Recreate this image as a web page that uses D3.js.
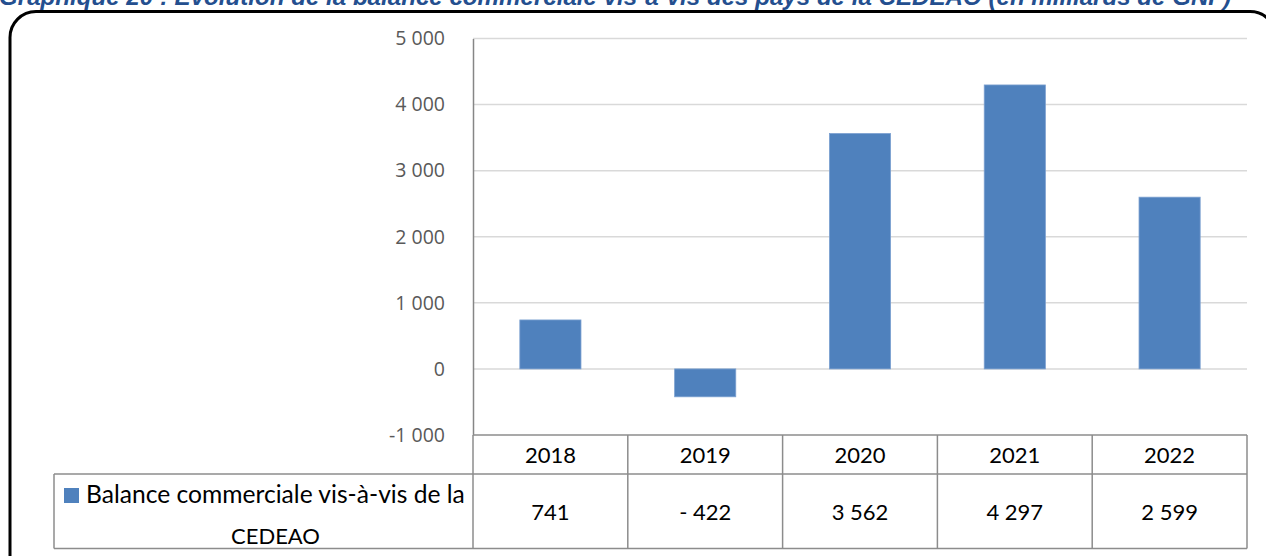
<!DOCTYPE html>
<html lang="fr">
<head>
<meta charset="UTF-8">
<title>Balance commerciale CEDEAO</title>
<style>
  body { margin: 0; background: #fff; }
  svg { display: block; }
</style>
</head>
<body>
<svg id="chart" width="1266" height="556"></svg>
<script src="https://d3js.org/d3.v7.min.js"></script>
<script>
// data
const years = ["2018", "2019", "2020", "2021", "2022"];
const balance = [741, -422, 3562, 4297, 2599];
const seriesName = "Balance commerciale vis-à-vis de la CEDEAO";
const yTicks = [-1000, 0, 1000, 2000, 3000, 4000, 5000];
const title = "Graphique 20 : Evolution de la balance commerciale vis-à-vis des pays de la CEDEAO (en milliards de GNF)";

const svg = d3.select("#chart");
const fr = d3.formatLocale({ decimal: ",", thousands: "\u00a0", grouping: [3] });
const fmt = fr.format(",d");
const valueLabel = v => v < 0 ? "- " + fmt(-v) : fmt(v);

// plot area
const plotLeft = 473, plotRight = 1247, plotTop = 38.5, plotBottom = 435;
const rowHead = 474, rowEnd = 548.5, legendLeft = 54;

// fit a text element to a given width by changing its font size
function fitWidth(sel, width) {
  const node = sel.node();
  const fs = parseFloat(sel.attr("font-size"));
  const w = node.getComputedTextLength();
  sel.attr("font-size", (fs * width / w).toFixed(2));
}

// title (cut by the top edge)
svg.append("text")
  .attr("x", -1).attr("y", 5)
  .attr("font-family", "Liberation Sans, Arial, sans-serif")
  .attr("font-weight", "bold").attr("font-style", "italic")
  .attr("font-size", 19).attr("fill", "#244f8f")
  .text(title)
  .call(fitWidth, 1233);

// rounded frame
svg.append("rect")
  .attr("x", 10).attr("y", 11.5)
  .attr("width", 1266).attr("height", 570)
  .attr("rx", 26).attr("ry", 26)
  .attr("fill", "none").attr("stroke", "#000").attr("stroke-width", 3);

const x = d3.scaleBand().domain(years).range([plotLeft, plotRight]);
const y = d3.scaleLinear().domain([-1000, 5000]).range([plotBottom, plotTop]);

// gridlines
svg.append("g")
  .selectAll("line")
  .data(yTicks.filter(t => t > -1000))
  .join("line")
  .attr("x1", plotLeft).attr("x2", plotRight)
  .attr("y1", d => y(d)).attr("y2", d => y(d))
  .attr("stroke", "#d9d9d9").attr("stroke-width", 1.5);

// y axis
const yAxis = svg.append("g")
  .attr("transform", `translate(${plotLeft},0)`)
  .call(d3.axisLeft(y).tickValues(yTicks).tickSize(0).tickPadding(28)
    .tickFormat(d => d < 0 ? "-" + fmt(-d) : fmt(d)));
yAxis.select(".domain").attr("stroke", "#868686").attr("stroke-width", 1.5);
yAxis.selectAll("text")
  .attr("font-family", "Open Sans, sans-serif")
  .attr("font-size", 19.5)
  .attr("fill", "#595959");

// bars
const barW = x.bandwidth() * 0.395;
svg.append("g")
  .selectAll("rect")
  .data(balance)
  .join("rect")
  .attr("x", (d, i) => x(years[i]) + (x.bandwidth() - barW) / 2)
  .attr("y", d => y(Math.max(0, d)))
  .attr("width", barW)
  .attr("height", d => Math.abs(y(d) - y(0)))
  .attr("fill", "#4f81bd")
  .attr("stroke", "#7ba0d0").attr("stroke-width", 0.8);

// data table
const tbl = svg.append("g")
  .attr("fill", "none").attr("stroke", "#8c8c8c").attr("stroke-width", 1.5);
tbl.append("line").attr("x1", plotLeft).attr("x2", plotRight).attr("y1", plotBottom).attr("y2", plotBottom);
tbl.append("line").attr("x1", legendLeft).attr("x2", plotRight).attr("y1", rowHead).attr("y2", rowHead);
tbl.append("line").attr("x1", legendLeft).attr("x2", plotRight).attr("y1", rowEnd).attr("y2", rowEnd);
tbl.append("line").attr("x1", legendLeft).attr("x2", legendLeft).attr("y1", rowHead).attr("y2", rowEnd);
tbl.append("line").attr("x1", plotLeft).attr("x2", plotLeft).attr("y1", plotBottom).attr("y2", rowEnd);
tbl.selectAll(".col")
  .data(years)
  .join("line")
  .attr("x1", d => x(d) + x.bandwidth()).attr("x2", d => x(d) + x.bandwidth())
  .attr("y1", plotBottom).attr("y2", rowEnd);

const cellFont = "Lato, Calibri, sans-serif";
svg.append("g")
  .selectAll("text")
  .data(years)
  .join("text")
  .attr("x", d => x(d) + x.bandwidth() / 2)
  .attr("y", 462.5)
  .attr("text-anchor", "middle")
  .attr("font-family", cellFont).attr("font-size", 22)
  .attr("fill", "#000")
  .text(d => d);

svg.append("g")
  .selectAll("text")
  .data(balance)
  .join("text")
  .attr("x", (d, i) => x(years[i]) + x.bandwidth() / 2)
  .attr("y", 520)
  .attr("text-anchor", "middle")
  .attr("font-family", cellFont).attr("font-size", 22)
  .attr("fill", "#000")
  .text(d => valueLabel(d));

// legend cell
svg.append("rect")
  .attr("x", 64).attr("y", 488).attr("width", 15).attr("height", 15)
  .attr("fill", "#4f81bd");
const words = seriesName.split(" ");
const line1 = words.slice(0, -1).join(" ");
const line2 = words[words.length - 1];
svg.append("text")
  .attr("x", 86).attr("y", 503)
  .attr("font-family", cellFont).attr("font-size", 22)
  .attr("fill", "#000")
  .text(line1)
  .call(fitWidth, 379);
svg.append("text")
  .attr("x", 275.5).attr("y", 544)
  .attr("text-anchor", "middle")
  .attr("font-family", cellFont).attr("font-size", 22)
  .attr("fill", "#000")
  .text(line2);
</script>
</body>
</html>
